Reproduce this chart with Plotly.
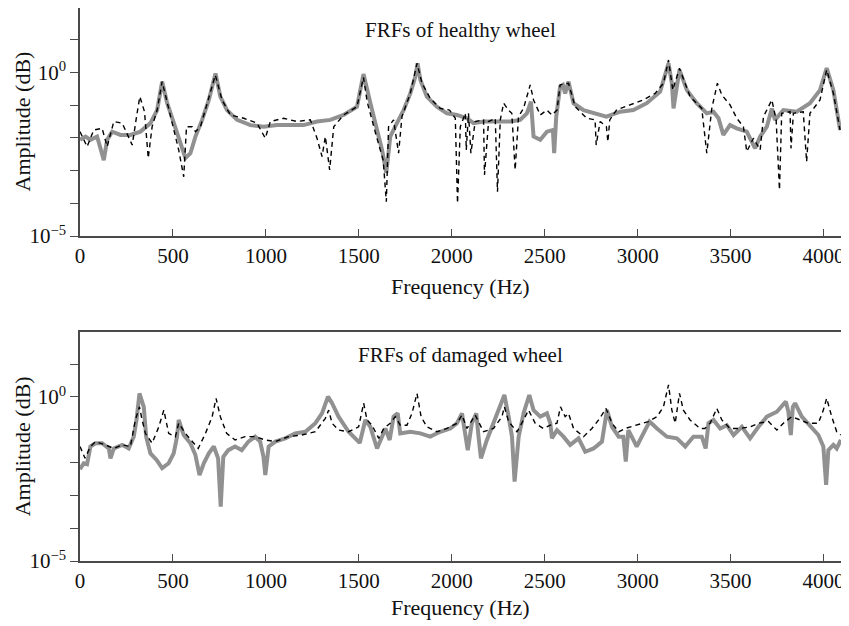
import plotly.graph_objects as go

# ---------------- data (log10 of amplitude) ----------------
# Top panel: FRFs of healthy wheel
healthy_grey_hz = [0, 30, 56, 92, 128, 146, 173, 218, 271, 325, 379, 415, 442, 469, 505, 540, 567, 594, 621, 657,
                   693, 729, 755, 791, 845, 917, 988, 1060, 1132, 1203, 1275, 1347, 1418, 1490, 1525, 1545, 1565,
                   1598, 1625, 1648, 1669, 1705, 1741, 1777, 1804, 1816, 1831, 1866, 1920, 1974, 2028, 2082, 2117,
                   2171, 2243, 2315, 2368, 2404, 2426, 2440, 2476, 2512, 2544, 2551, 2562, 2583, 2598, 2610, 2628,
                   2655, 2709, 2781, 2832, 2906, 2977, 3049, 3121, 3166, 3184, 3193, 3214, 3225, 3265, 3318, 3372,
                   3408, 3435, 3461, 3497, 3533, 3587, 3632, 3659, 3695, 3722, 3739, 3784, 3856, 3927, 3981, 4017,
                   4053, 4089]
healthy_grey_log = [-2.06, -1.96, -2.06, -1.96, -2.68, -2.06, -1.81, -1.91, -1.91, -1.81, -1.55, -1.15, -0.28, -0.94,
                    -1.55, -2.17, -2.62, -2.47, -1.96, -1.45, -0.84, -0.03, -0.74, -1.15, -1.45, -1.61, -1.66, -1.61,
                    -1.61, -1.61, -1.50, -1.45, -1.30, -1.05, -0.05, -0.60, -1.00, -1.76, -2.37, -3.07, -1.96, -1.55,
                    -1.15, -0.64, -0.13, 0.28, -0.23, -0.74, -1.05, -1.25, -1.30, -1.40, -1.55, -1.50, -1.50, -1.50,
                    -1.45, -1.25, -0.89, -1.96, -2.06, -1.81, -1.76, -2.47, -1.35, -0.43, -0.38, -0.64, -0.28, -0.94,
                    -1.15, -1.25, -1.35, -1.20, -1.15, -0.94, -0.59, 0.28, -0.33, -1.10, -0.33, 0.08, -0.54, -0.94,
                    -1.25, -1.20, -1.40, -1.91, -1.61, -1.71, -1.81, -2.32, -1.96, -1.66, -1.10, -1.45, -1.15, -1.20,
                    -0.94, -0.54, 0.13, -0.54, -1.76]

healthy_dash_hz = [0, 38, 74, 119, 146, 182, 227, 281, 307, 322, 347, 367, 388, 415, 442, 469, 504, 531, 558, 573,
                   603, 621, 648, 684, 728, 764, 809, 881, 952, 997, 1024, 1096, 1167, 1239, 1275, 1302, 1320, 1343,
                   1365, 1418, 1490, 1525, 1545, 1595, 1631, 1648, 1660, 1687, 1714, 1732, 1777, 1813, 1840, 1884,
                   1938, 1988, 2019, 2031, 2046, 2073, 2078, 2090, 2103, 2126, 2171, 2176, 2198, 2234, 2246, 2261,
                   2279, 2305, 2323, 2341, 2359, 2386, 2422, 2440, 2476, 2512, 2539, 2566, 2583, 2628, 2664, 2727,
                   2771, 2777, 2798, 2832, 2840, 2850, 2886, 2959, 3031, 3094, 3139, 3166, 3189, 3225, 3282, 3345,
                   3372, 3399, 3429, 3453, 3476, 3497, 3533, 3569, 3587, 3623, 3659, 3677, 3722, 3745, 3763, 3775,
                   3820, 3825, 3838, 3891, 3909, 3927, 3981, 4017, 4053, 4089]
healthy_dash_log = [-1.81, -2.27, -1.76, -1.71, -2.27, -1.50, -1.55, -2.22, -1.25, -0.74, -1.20, -2.62, -1.66, -1.15,
                    -0.28, -0.94, -1.76, -2.37, -3.19, -1.66, -1.66, -1.81, -1.66, -0.94, -0.08, -0.84, -1.30, -1.40,
                    -1.55, -2.01, -1.50, -1.40, -1.50, -1.45, -2.01, -2.57, -1.96, -2.98, -1.66, -1.30, -1.05, -0.15,
                    -0.90, -1.96, -2.68, -3.95, -1.66, -1.45, -2.47, -1.35, -0.64, 0.28, -0.33, -0.79, -1.10, -1.15,
                    -1.40, -4.00, -1.66, -1.25, -2.37, -1.25, -2.47, -1.50, -1.45, -3.13, -1.50, -1.40, -3.65, -1.45,
                    -0.94, -1.15, -1.25, -2.98, -1.35, -1.10, -0.38, -0.84, -1.30, -1.15, -1.30, -1.15, -0.38, -0.33,
                    -1.05, -1.40, -1.45, -2.22, -1.50, -1.66, -2.12, -1.45, -1.15, -0.99, -0.84, -0.64, -0.33, 0.38,
                    -0.54, 0.13, -0.74, -1.10, -2.47, -1.10, -0.33, -0.69, -0.84, -0.99, -1.40, -1.66, -2.42, -2.01,
                    -2.37, -1.35, -0.84, -1.45, -3.59, -1.25, -1.20, -2.32, -1.25, -1.20, -2.73, -1.25, -0.84, 0.08,
                    -0.64, -1.76]

# Bottom panel: FRFs of damaged wheel
damaged_grey_hz = [0, 20, 38, 56, 83, 119, 155, 164, 182, 227, 262, 289, 304, 320, 343, 356, 379, 412, 442, 477, 504,
                   522, 531, 558, 594, 621, 643, 666, 693, 720, 743, 757, 771, 798, 834, 870, 906, 942, 969, 987, 997,
                   1015, 1051, 1104, 1158, 1212, 1266, 1302, 1334, 1356, 1391, 1445, 1505, 1535, 1562, 1598, 1625,
                   1643, 1666, 1687, 1709, 1723, 1777, 1831, 1884, 1938, 1992, 2028, 2055, 2073, 2086, 2108, 2132,
                   2144, 2157, 2189, 2225, 2261, 2283, 2306, 2324, 2338, 2360, 2386, 2417, 2440, 2476, 2512, 2530,
                   2539, 2566, 2601, 2637, 2682, 2718, 2763, 2808, 2835, 2862, 2898, 2923, 2936, 2950, 2968, 2995,
                   3031, 3064, 3104, 3157, 3211, 3256, 3300, 3345, 3366, 3381, 3408, 3444, 3480, 3516, 3561, 3605,
                   3650, 3695, 3749, 3797, 3811, 3824, 3835, 3847, 3883, 3927, 3972, 3999, 4014, 4026, 4053, 4071,
                   4093]
damaged_grey_log = [-2.20, -2.02, -2.05, -1.51, -1.41, -1.41, -1.57, -1.87, -1.57, -1.46, -1.57, -1.21, -0.70, 0.11,
                    -0.30, -1.21, -1.72, -1.92, -2.17, -2.02, -1.72, -1.21, -0.70, -1.16, -1.41, -1.77, -2.38, -2.02,
                    -1.72, -1.51, -1.87, -3.34, -1.82, -1.62, -1.51, -1.62, -1.36, -1.21, -1.36, -1.82, -2.38, -1.51,
                    -1.36, -1.26, -1.11, -1.06, -0.80, -0.50, 0.01, -0.19, -0.60, -1.06, -1.40, -0.70, -0.91, -1.57,
                    -1.21, -0.96, -1.31, -0.60, -0.50, -1.11, -1.06, -1.11, -1.21, -1.06, -0.96, -0.80, -0.50, -1.21,
                    -1.62, -0.80, -0.50, -1.21, -1.87, -1.31, -0.80, -0.30, 0.06, -0.60, -1.21, -2.58, -1.21, -0.50,
                    0.06, -0.40, -0.60, -0.50, -0.80, -1.26, -1.01, -1.21, -1.46, -1.26, -1.67, -1.57, -1.36, -0.40,
                    -0.91, -1.21, -1.21, -1.97, -1.01, -1.21, -1.51, -1.11, -0.75, -0.96, -1.21, -1.26, -1.51, -1.21,
                    -1.21, -1.57, -0.80, -0.70, -0.96, -0.86, -1.16, -0.91, -1.26, -0.91, -0.60, -0.45, -0.14, -0.45,
                    -1.16, -0.30, -0.19, -0.60, -0.86, -1.16, -1.51, -2.68, -1.62, -1.46, -1.57, -1.31]

damaged_dash_hz = [0, 27, 56, 83, 137, 182, 227, 271, 298, 320, 334, 352, 388, 424, 451, 477, 513, 531, 567, 603, 636,
                   675, 711, 732, 755, 789, 834, 888, 942, 997, 1051, 1121, 1193, 1266, 1320, 1338, 1356, 1391, 1445,
                   1499, 1526, 1544, 1571, 1607, 1634, 1669, 1696, 1723, 1759, 1786, 1813, 1835, 1866, 1920, 1974,
                   2028, 2055, 2082, 2126, 2171, 2225, 2270, 2283, 2306, 2351, 2386, 2413, 2449, 2493, 2530, 2566,
                   2585, 2610, 2628, 2655, 2709, 2754, 2790, 2830, 2862, 2898, 2932, 2986, 3057, 3104, 3139, 3166,
                   3184, 3202, 3225, 3246, 3282, 3336, 3362, 3390, 3426, 3453, 3497, 3551, 3605, 3650, 3704, 3749,
                   3784, 3829, 3874, 3918, 3972, 3999, 4017, 4044, 4071, 4093]
damaged_dash_log = [-1.51, -1.87, -1.51, -1.36, -1.46, -1.57, -1.46, -1.51, -0.70, -0.30, -0.70, -1.11, -1.41, -0.91,
                    -0.40, -1.11, -1.21, -0.80, -1.11, -1.36, -1.57, -1.11, -0.60, -0.04, -0.60, -1.11, -1.31, -1.21,
                    -1.21, -1.31, -1.36, -1.21, -1.16, -1.06, -0.65, -0.40, -0.80, -1.01, -1.06, -0.91, -0.19, -0.70,
                    -0.86, -1.26, -0.96, -0.80, -0.60, -0.86, -0.86, -0.50, 0.11, -0.60, -0.91, -1.06, -0.96, -0.80,
                    -0.55, -0.96, -0.55, -1.06, -0.96, -0.60, -0.30, -0.75, -1.06, -0.70, -0.40, -0.80, -0.96, -0.86,
                    -0.80, -0.30, -0.60, -0.50, -0.96, -1.21, -0.96, -0.70, -0.35, -0.80, -1.06, -0.96, -0.86, -0.75,
                    -0.60, -0.30, 0.37, -0.40, -0.80, 0.11, -0.40, -0.70, -0.96, -0.96, -0.80, -0.35, -0.70, -0.96,
                    -0.96, -0.91, -0.80, -0.75, -1.01, -0.80, -0.60, -0.70, -0.80, -0.80, -0.40, -0.04, -0.60, -1.06,
                    -1.16]

panel_titles = ["FRFs of healthy wheel", "FRFs of damaged wheel"]
x_tick_vals = [0, 500, 1000, 1500, 2000, 2500, 3000, 3500, 4000]
y_major_vals = [-5, 0]
y_major_text = ["10<sup>−5</sup>", "10<sup>0</sup>"]
y_minor_vals = [-4, -3, -2, -1, 1]

# ---------------- figure ----------------
# The page adds an 8px body margin, so the figure is 8px smaller than the window
W, H = 841, 610 + 8
L, R, T, B = 72, 8, 0, 65
PH = H - T - B
FONT = "Liberation Serif"
GREY = "rgb(145,145,145)"
FRAME = "#4a4a4a"
TXT = "#111"


def fy(ypix):
    return (H - B - ypix) / PH


def fx(xpix):
    return (xpix - L) / (W - L - R)


fig = go.Figure()
panels = [
    (healthy_grey_hz, healthy_grey_log, healthy_dash_hz, healthy_dash_log, "x", "y"),
    (damaged_grey_hz, damaged_grey_log, damaged_dash_hz, damaged_dash_log, "x2", "y2"),
]
for gx, gy, dx, dy, xa, ya in panels:
    fig.add_trace(go.Scatter(x=gx, y=gy, mode="lines", xaxis=xa, yaxis=ya,
                             line=dict(color=GREY, width=4), showlegend=False))
    fig.add_trace(go.Scatter(x=dx, y=dy, mode="lines", xaxis=xa, yaxis=ya,
                             line=dict(color="black", width=1.4, dash="5px,4px"), showlegend=False))

xaxis_common = dict(range=[0, 4094], tickmode="array", tickvals=x_tick_vals, ticks="inside", ticklen=7,
                    tickwidth=1, tickcolor=FRAME, showline=True, linecolor=FRAME, linewidth=1.5, mirror=True,
                    showgrid=False, zeroline=False, automargin=False,
                    tickfont=dict(family=FONT, size=21, color=TXT))
yaxis_common = dict(tickmode="array", tickvals=y_major_vals, ticktext=y_major_text, ticks="outside", ticklen=8,
                    tickwidth=1, tickcolor=FRAME, showline=True, linecolor=FRAME, linewidth=1.5, mirror=True,
                    showgrid=False, zeroline=False, automargin=False,
                    minor=dict(tickmode="array", tickvals=y_minor_vals, ticks="outside", ticklen=8,
                               tickwidth=1, tickcolor=FRAME, showgrid=False),
                    tickfont=dict(family=FONT, size=21, color=TXT))

fig.update_layout(
    width=W, height=H,
    margin=dict(l=L, r=R, t=T, b=B, autoexpand=False),
    paper_bgcolor="white", plot_bgcolor="white",
    xaxis=dict(domain=[0, 1], anchor="y", **xaxis_common),
    yaxis=dict(domain=[fy(228), 1.0], anchor="x", range=[-5, 1.97], **yaxis_common),
    xaxis2=dict(domain=[0, 1], anchor="y2", **xaxis_common),
    yaxis2=dict(domain=[0, fy(323.7)], anchor="x2", range=[-5, 1.99], **yaxis_common),
)

ann = []
for title, ytitle, yx, yamp in [(panel_titles[0], 22, 278, 113.5), (panel_titles[1], 347, 599, 438.3)]:
    ann.append(dict(text=title, x=0.5, y=fy(ytitle), xref="paper", yref="paper", showarrow=False,
                    font=dict(family=FONT, size=21, color=TXT), xanchor="center", yanchor="middle"))
    ann.append(dict(text="Frequency (Hz)", x=0.5, y=fy(yx), xref="paper", yref="paper", showarrow=False,
                    font=dict(family=FONT, size=22, color=TXT), xanchor="center", yanchor="middle"))
    ann.append(dict(text="Amplitude (dB)", x=fx(14), y=fy(yamp), xref="paper", yref="paper",
                    showarrow=False, textangle=-90,
                    font=dict(family=FONT, size=22, color=TXT), xanchor="center", yanchor="middle"))
fig.update_layout(annotations=ann)

fig.write_html("out.html")
